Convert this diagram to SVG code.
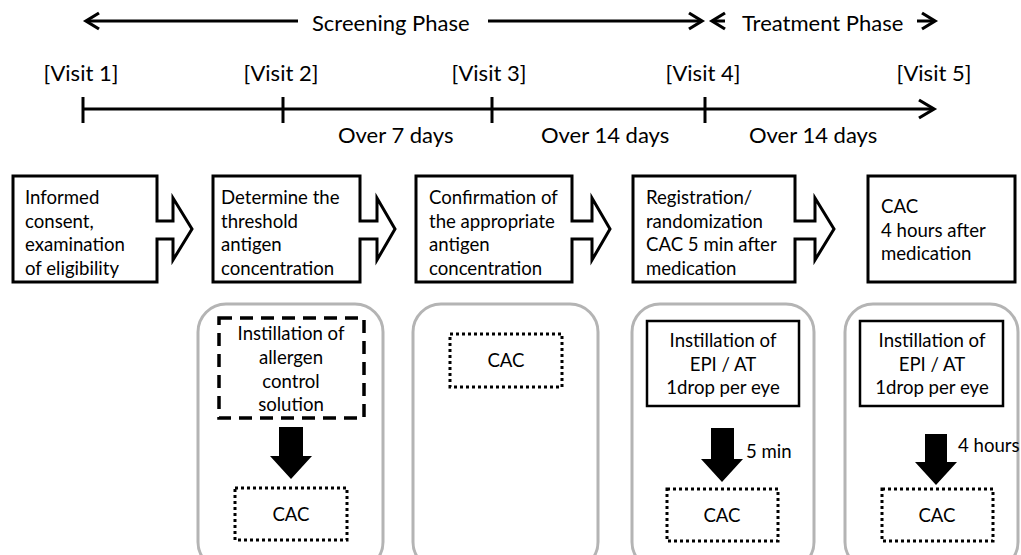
<svg xmlns="http://www.w3.org/2000/svg" width="1021" height="555" viewBox="0 0 1021 555">
<style>
  text { font-family: Lato, "Open Sans", "Liberation Sans", sans-serif; fill: #000; }
  .big { font-size: 22px; }
  .t { font-size: 18.6px; }
  .mid { text-anchor: middle; }
  .ln { stroke: #000; stroke-width: 3; fill: none; }
  .step { fill: #fff; stroke: #000; stroke-width: 3; stroke-linejoin: miter; }
  .panel { fill: #fff; stroke: #b4b4b4; stroke-width: 3; }
  .solid { fill: #fff; stroke: #000; stroke-width: 2.5; }
  .dash { fill: #fff; stroke: #000; stroke-width: 3.5; stroke-dasharray: 13 8; }
  .dot { fill: #fff; stroke: #000; stroke-width: 3; stroke-dasharray: 3 3; }
  .blk { fill: #000; stroke: none; }
</style>
<defs>
  <marker id="chev" markerUnits="userSpaceOnUse" markerWidth="24" markerHeight="24" viewBox="-20 -12 24 24" refX="0" refY="0" orient="auto">
    <path d="M-13,-8 L0,0 L-13,8" fill="none" stroke="#000" stroke-width="3.2"/>
  </marker>
  <marker id="chevL" markerUnits="userSpaceOnUse" markerWidth="24" markerHeight="24" viewBox="-20 -12 24 24" refX="0" refY="0" orient="auto">
    <path d="M-15,-9 L0,0 L-15,9" fill="none" stroke="#000" stroke-width="3.2"/>
  </marker>
</defs>

<g id="connectors">
  <line class="ln" x1="298" y1="21" x2="86" y2="21" marker-end="url(#chev)"/>
  <line class="ln" x1="488" y1="21" x2="702" y2="21" marker-end="url(#chev)"/>
  <line class="ln" x1="725" y1="21" x2="712" y2="21" marker-end="url(#chev)"/>
  <line class="ln" x1="917" y1="21" x2="935" y2="21" marker-end="url(#chev)"/>
  <line class="ln" x1="83" y1="109" x2="934" y2="109" marker-end="url(#chevL)"/>
  <line class="ln" x1="83" y1="97" x2="83" y2="123"/>
  <line class="ln" x1="283" y1="97" x2="283" y2="123"/>
  <line class="ln" x1="492" y1="97" x2="492" y2="123"/>
  <line class="ln" x1="705" y1="97" x2="705" y2="123"/>
</g>

<g id="phases">
  <text class="big" x="312" y="31">Screening Phase</text>
  <text class="big" x="742" y="31">Treatment Phase</text>
</g>

<g id="visits">
  <text class="big mid" x="81" y="81">[Visit 1]</text>
  <text class="big mid" x="281" y="81">[Visit 2]</text>
  <text class="big mid" x="489" y="81">[Visit 3]</text>
  <text class="big mid" x="703" y="81">[Visit 4]</text>
  <text class="big mid" x="934" y="81">[Visit 5]</text>
  <text class="big" x="338" y="143">Over 7 days</text>
  <text class="big" x="541" y="143">Over 14 days</text>
  <text class="big" x="749" y="143">Over 14 days</text>
</g>

<g id="step1">
  <path class="step" d="M13,176 H157 V221 H173 V198 L192,229 L173,260 V239 H157 V282 H13 Z"/>
  <text class="t" x="25" y="204">Informed</text>
  <text class="t" x="25" y="228">consent,</text>
  <text class="t" x="25" y="251">examination</text>
  <text class="t" x="25" y="275">of eligibility</text>
</g>
<g id="step2">
  <path class="step" d="M213,176 H360 V221 H377 V198 L395,229 L377,260 V239 H360 V282 H213 Z"/>
  <text class="t" x="221" y="204">Determine the</text>
  <text class="t" x="221" y="228">threshold</text>
  <text class="t" x="221" y="251">antigen</text>
  <text class="t" x="221" y="275">concentration</text>
</g>
<g id="step3">
  <path class="step" d="M416,176 H572 V221 H592 V198 L610,229 L592,260 V239 H572 V282 H416 Z"/>
  <text class="t" x="429" y="204">Confirmation of</text>
  <text class="t" x="429" y="228">the appropriate</text>
  <text class="t" x="429" y="251">antigen</text>
  <text class="t" x="429" y="275">concentration</text>
</g>
<g id="step4">
  <path class="step" d="M633,176 H795 V221 H815 V198 L834,229 L815,260 V239 H795 V282 H633 Z"/>
  <text class="t" x="646" y="204">Registration/</text>
  <text class="t" x="646" y="228">randomization</text>
  <text class="t" x="646" y="251">CAC 5 min after</text>
  <text class="t" x="646" y="275">medication</text>
</g>
<g id="step5">
  <rect class="step" x="868" y="176" width="147" height="106"/>
  <text class="t" x="881" y="213">CAC</text>
  <text class="t" x="881" y="237">4 hours after</text>
  <text class="t" x="881" y="260">medication</text>
</g>

<g id="panel-visit2">
  <rect class="panel" x="198" y="304" width="185" height="266" rx="28"/>
  <rect class="dash" x="219" y="318" width="145" height="100"/>
  <text class="t mid" x="291" y="340">Instillation of</text>
  <text class="t mid" x="291" y="364">allergen</text>
  <text class="t mid" x="291" y="388">control</text>
  <text class="t mid" x="291" y="411">solution</text>
  <path class="blk" d="M279,427 H303 V456 H312 L291,479 L270,456 H279 Z"/>
  <rect class="dot" x="235" y="488" width="112" height="52"/>
  <text class="t mid" x="291" y="521">CAC</text>
</g>

<g id="panel-visit3">
  <rect class="panel" x="413" y="304" width="185" height="266" rx="28"/>
  <rect class="dot" x="450" y="334" width="112" height="53"/>
  <text class="t mid" x="506" y="367">CAC</text>
</g>

<g id="panel-visit4">
  <rect class="panel" x="632" y="304" width="182" height="266" rx="28"/>
  <rect class="solid" x="647" y="321" width="152" height="85"/>
  <text class="t mid" x="723" y="347">Instillation of</text>
  <text class="t mid" x="723" y="371">EPI / AT</text>
  <text class="t mid" x="723" y="394">1drop per eye</text>
  <path class="blk" d="M711,428 H734 V459 H743 L722,482 L701,459 H711 Z"/>
  <text class="t" x="746" y="458">5 min</text>
  <rect class="dot" x="667" y="489" width="111" height="52"/>
  <text class="t mid" x="722" y="522">CAC</text>
</g>

<g id="panel-visit5">
  <rect class="panel" x="845" y="304" width="173" height="266" rx="28"/>
  <rect class="solid" x="860" y="321" width="143" height="85"/>
  <text class="t mid" x="932" y="347">Instillation of</text>
  <text class="t mid" x="932" y="371">EPI / AT</text>
  <text class="t mid" x="932" y="394">1drop per eye</text>
  <path class="blk" d="M925,434 H947 V462 H957 L936,485 L915,462 H925 Z"/>
  <text class="t" x="958" y="452">4 hours</text>
  <rect class="dot" x="882" y="489" width="111" height="52"/>
  <text class="t mid" x="937" y="522">CAC</text>
</g>
</svg>
